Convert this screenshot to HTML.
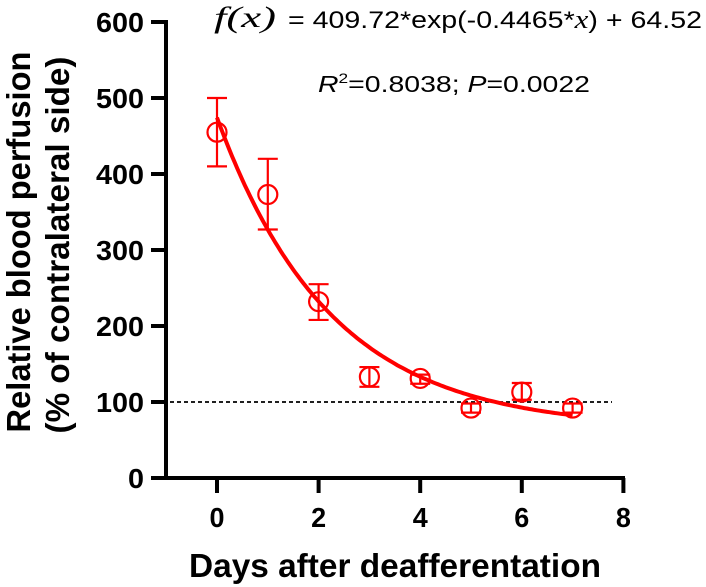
<!DOCTYPE html>
<html><head><meta charset="utf-8"><style>
html,body{margin:0;padding:0;background:#fff;}
svg{display:block;font-family:"Liberation Sans",Arial,sans-serif;}
</style></head><body>
<svg id="chart" width="706" height="587" viewBox="0 0 706 587" xmlns="http://www.w3.org/2000/svg">
<g id="axes"></g>
<g id="marks"></g>
<text x="214" y="27" font-family="Liberation Serif,serif" font-style="italic" font-size="30" textLength="62" lengthAdjust="spacingAndGlyphs">f(x)</text>
<text x="288" y="28" font-size="24" textLength="414" lengthAdjust="spacingAndGlyphs">= 409.72*exp(-0.4465*<tspan font-family="Liberation Serif,serif" font-style="italic" font-size="26">x</tspan>) + 64.52</text>
<text x="318" y="92" font-size="23" textLength="272" lengthAdjust="spacingAndGlyphs"><tspan font-style="italic">R</tspan><tspan font-size="14" dy="-9">2</tspan><tspan dy="9">=0.8038; </tspan><tspan font-style="italic">P</tspan>=0.0022</text>
<text transform="translate(30,242) rotate(-90)" text-anchor="middle" font-size="33" font-weight="bold" textLength="381" lengthAdjust="spacingAndGlyphs">Relative blood perfusion</text>
<text transform="translate(69,245) rotate(-90)" text-anchor="middle" font-size="33" font-weight="bold" textLength="377" lengthAdjust="spacingAndGlyphs">(% of contralateral side)</text>
<text x="189" y="577" font-size="33" font-weight="bold" textLength="412" lengthAdjust="spacingAndGlyphs">Days after deafferentation</text>
</svg>
<script>
const days=[0,1,2,3,4,5,6,7];
const means=[455,373,232,133,131,92,113,92];
const errLow=[410,327,208,120,124,86,103,86];
const errHigh=[500,420,255,146,136,98,125,98];
const xTicks=[0,2,4,6,8];
const yTicks=[0,100,200,300,400,500,600];
const fitA=409.72, fitK=-0.4465, fitC=64.52;
const refLine=100;

const NS="http://www.w3.org/2000/svg";
const xs=v=>217+v*50.8;
const ys=v=>478-v*0.76;
function mk(tag,attrs,parent){const e=document.createElementNS(NS,tag);for(const k in attrs)e.setAttribute(k,attrs[k]);parent.appendChild(e);return e;}
const ax=document.getElementById('axes'), mg=document.getElementById('marks');
let e;
e=mk('line',{x1:166,y1:ys(600)-2,x2:166,y2:479.5,stroke:'#000','stroke-width':4},ax);


e=mk('line',{x1:151,y1:478,x2:625,y2:478,stroke:'#000','stroke-width':4},ax);


yTicks.forEach(t=>{
  let l=mk('line',{x1:151,y1:ys(t),x2:166,y2:ys(t),stroke:'#000','stroke-width':4},ax);
  
  
  const s=String(t);
  let tx=mk('text',{x:144,y:ys(t)+10,'text-anchor':'end','font-size':28,'font-weight':'bold',textLength:16*s.length,lengthAdjust:'spacingAndGlyphs'},ax);
  tx.textContent=s;
  
  
});
xTicks.forEach(t=>{
  let l=mk('line',{x1:xs(t),y1:478,x2:xs(t),y2:493,stroke:'#000','stroke-width':4},ax);
  
  
  let tx=mk('text',{x:xs(t),y:527,'text-anchor':'middle','font-size':28,'font-weight':'bold',textLength:15,lengthAdjust:'spacingAndGlyphs'},ax);
  tx.textContent=t;
  
  
});
e=mk('line',{x1:170,y1:ys(refLine),x2:612,y2:ys(refLine),stroke:'#000','stroke-width':1.8,'stroke-dasharray':'4,3'},mg);


let d='';
for(let i=0;i<=140;i++){const x=7*i/140;const y=fitA*Math.exp(fitK*x)+fitC;d+=(i?'L':'M')+xs(x).toFixed(1)+','+ys(y).toFixed(1);}
e=mk('path',{d:d,fill:'none',stroke:'#f00','stroke-width':4},mg);


days.forEach((dv,i)=>{
  const x=xs(dv);
  const g=mk('g',{stroke:'#f00','stroke-width':2.2,fill:'none'},mg);
  
  
  mk('line',{x1:x,y1:ys(errLow[i]),x2:x,y2:ys(errHigh[i])},g);
  mk('line',{x1:x-10,y1:ys(errLow[i]),x2:x+10,y2:ys(errLow[i])},g);
  mk('line',{x1:x-10,y1:ys(errHigh[i]),x2:x+10,y2:ys(errHigh[i])},g);
  mk('circle',{cx:x,cy:ys(means[i]),r:9.5,fill:'none'},g);
});
</script>
</body></html>
